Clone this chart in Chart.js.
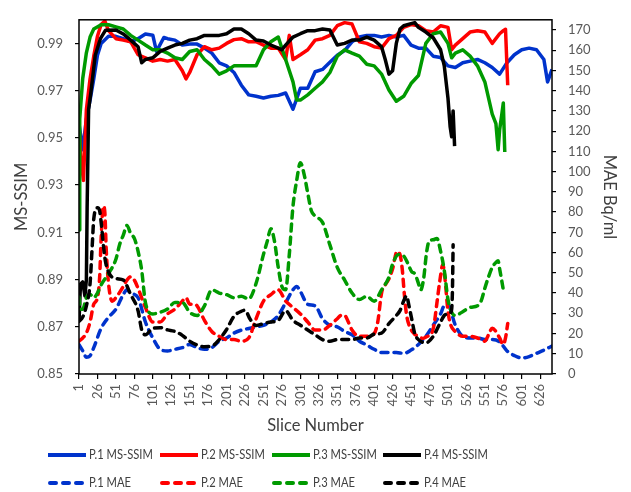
<!DOCTYPE html>
<html lang="en">
<head>
<meta charset="UTF-8">
<title>MS-SSIM and MAE per slice</title>
<script src="https://cdn.jsdelivr.net/npm/chart.js"></script>
<style>
    * { margin: 0; padding: 0; box-sizing: border-box; }
    body { background: #fff; width: 631px; height: 492px; overflow: hidden; }
</style>
</head>
<body>
<canvas id="chart" width="631" height="492"></canvas>
<script>
    // tick labels
    const sliceTicks = [1, 26, 51, 76, 101, 126, 151, 176, 201, 226, 251, 276, 301, 326, 351, 376, 401, 426, 451, 476, 501, 526, 551, 576, 601, 626];
    const ssimTicks = [0.85, 0.87, 0.89, 0.91, 0.93, 0.95, 0.97, 0.99];
    const maeTicks = [0, 10, 20, 30, 40, 50, 60, 70, 80, 90, 100, 110, 120, 130, 140, 150, 160, 170];

    const patients = ['P.1', 'P.2', 'P.3', 'P.4'];

    // MS-SSIM (left axis)
    const p1SsimX = [1, 6, 11, 16, 21, 26, 31, 41, 51, 61, 71, 81, 91, 101, 106, 116, 121, 131, 141, 151, 161, 171, 181, 191, 201, 211, 221, 231, 241, 251, 261, 271, 281, 291, 301, 311, 321, 331, 341, 351, 361, 371, 381, 391, 401, 411, 421, 431, 441, 451, 461, 471, 481, 491, 501, 511, 521, 531, 541, 551, 561, 571, 581, 591, 601, 611, 621, 631, 636, 642];
    const p1SsimY = [0.956, 0.945, 0.958, 0.966, 0.975, 0.985, 0.990, 0.993, 0.993, 0.992, 0.9907, 0.992, 0.994, 0.9935, 0.9866, 0.9925, 0.992, 0.9914, 0.9893, 0.9897, 0.9897, 0.988, 0.9859, 0.9818, 0.9805, 0.9777, 0.9723, 0.9682, 0.9676, 0.9669, 0.9676, 0.968, 0.969, 0.9621, 0.971, 0.971, 0.978, 0.979, 0.982, 0.985, 0.987, 0.9907, 0.9927, 0.9934, 0.9934, 0.9927, 0.9934, 0.9927, 0.9934, 0.9893, 0.988, 0.988, 0.9846, 0.984, 0.9805, 0.9798, 0.9818, 0.9825, 0.9832, 0.9818, 0.9798, 0.977, 0.9818, 0.9852, 0.9873, 0.988, 0.9873, 0.9832, 0.9737, 0.979];

    const p2SsimX = [1, 4, 7, 11, 16, 21, 26, 31, 36, 41, 51, 61, 71, 81, 91, 101, 111, 121, 131, 141, 146, 151, 161, 171, 181, 191, 201, 211, 221, 231, 241, 251, 261, 271, 281, 286, 291, 301, 311, 321, 331, 341, 351, 361, 371, 381, 391, 401, 411, 421, 431, 441, 451, 461, 471, 481, 491, 501, 506, 511, 521, 531, 541, 551, 561, 571, 576, 579, 582];
    const p2SsimY = [0.955, 0.94, 0.932, 0.962, 0.975, 0.9846, 0.993, 0.998, 0.9995, 0.9954, 0.992, 0.9914, 0.9907, 0.9852, 0.9839, 0.9825, 0.9832, 0.9825, 0.9832, 0.9784, 0.975, 0.9777, 0.9852, 0.9886, 0.9873, 0.988, 0.99, 0.9916, 0.992, 0.9907, 0.9907, 0.9893, 0.988, 0.988, 0.9832, 0.9934, 0.9832, 0.9852, 0.9873, 0.9914, 0.992, 0.9934, 0.9975, 0.9988, 0.9982, 0.9907, 0.99, 0.9886, 0.988, 0.992, 0.9934, 0.9968, 0.998, 0.9975, 0.9954, 0.9948, 0.9975, 0.9968, 0.9873, 0.9893, 0.992, 0.9948, 0.9954, 0.9948, 0.99, 0.9941, 0.9954, 0.996, 0.9723];

    const p3SsimX = [1, 2, 6, 11, 16, 21, 31, 41, 51, 61, 71, 81, 91, 101, 111, 121, 131, 141, 151, 161, 171, 181, 191, 201, 211, 221, 231, 241, 251, 261, 271, 281, 291, 296, 301, 311, 321, 331, 341, 351, 361, 371, 381, 391, 401, 411, 421, 431, 441, 451, 461, 471, 481, 491, 501, 506, 511, 521, 531, 541, 551, 561, 566, 569, 571, 574, 576, 578];
    const p3SsimY = [0.911, 0.958, 0.975, 0.986, 0.9927, 0.9961, 0.9979, 0.9979, 0.997, 0.9961, 0.9934, 0.9914, 0.9893, 0.9873, 0.9873, 0.9859, 0.9839, 0.9832, 0.9866, 0.9873, 0.9832, 0.9805, 0.977, 0.9784, 0.9805, 0.9805, 0.9805, 0.9805, 0.9873, 0.9907, 0.9927, 0.9832, 0.9737, 0.966, 0.966, 0.9682, 0.971, 0.9737, 0.9777, 0.9846, 0.9873, 0.9859, 0.9846, 0.9812, 0.9805, 0.977, 0.9703, 0.9655, 0.9676, 0.973, 0.9764, 0.99, 0.9941, 0.9948, 0.99, 0.9839, 0.9859, 0.9873, 0.9846, 0.9805, 0.9737, 0.9601, 0.956, 0.945, 0.9533, 0.96, 0.9648, 0.944];

    const p4SsimX = [1, 3, 6, 9, 11, 12, 14, 17, 23, 30, 37, 51, 61, 71, 81, 86, 91, 101, 111, 121, 131, 141, 151, 161, 171, 181, 191, 201, 211, 221, 231, 241, 251, 261, 271, 276, 281, 291, 301, 311, 321, 331, 341, 351, 361, 371, 381, 391, 401, 411, 416, 421, 426, 431, 436, 441, 451, 456, 461, 471, 481, 491, 496, 501, 504, 506, 508, 510];
    const p4SsimY = [0.872, 0.888, 0.889, 0.883, 0.89, 0.92, 0.962, 0.969, 0.985, 0.992, 0.9956, 0.9957, 0.994, 0.9914, 0.9886, 0.9818, 0.9832, 0.9839, 0.9866, 0.988, 0.9893, 0.99, 0.9914, 0.992, 0.9934, 0.9934, 0.9934, 0.9941, 0.9961, 0.9961, 0.9941, 0.9914, 0.991, 0.9893, 0.988, 0.9873, 0.9893, 0.9927, 0.9941, 0.9954, 0.9954, 0.9961, 0.9957, 0.9893, 0.99, 0.9914, 0.9914, 0.9927, 0.9914, 0.9886, 0.9832, 0.977, 0.9784, 0.99, 0.9961, 0.9975, 0.9984, 0.9988, 0.9968, 0.9948, 0.9924, 0.9873, 0.9805, 0.9669, 0.9546, 0.9505, 0.9614, 0.9465];

    // MAE in Bq/ml (right axis)
    const p1MaeX = [1, 6, 11, 16, 21, 31, 41, 51, 61, 66, 71, 81, 91, 101, 111, 121, 131, 141, 151, 161, 171, 181, 191, 201, 211, 221, 231, 241, 251, 261, 271, 281, 291, 296, 301, 311, 321, 331, 341, 351, 361, 371, 381, 391, 401, 411, 421, 431, 441, 451, 461, 471, 481, 491, 496, 501, 511, 521, 531, 541, 551, 561, 571, 581, 591, 601, 611, 621, 631, 642];
    const p1MaeY = [14.5, 11.5, 8.3, 9, 13, 22.6, 28, 32, 39.3, 41.6, 40, 37.7, 25.7, 17.8, 12.2, 11.4, 12.2, 13, 14.6, 13, 12.2, 13, 16.2, 17.8, 20.2, 21.7, 22.5, 23.3, 24.1, 25.7, 28.9, 35.2, 41.6, 43.2, 40.8, 34.4, 33.7, 27.3, 24.1, 23.3, 21, 19.4, 16.2, 14.3, 12.2, 10.6, 10.6, 10.6, 10.2, 11.8, 14.6, 18.6, 24.1, 29.7, 33.7, 34, 24.1, 18.6, 17.8, 17.8, 17, 17, 15.9, 11.4, 9.1, 7.9, 8.6, 10.2, 11.8, 13.8];

    const p2MaeX = [1, 6, 11, 16, 21, 26, 29, 31, 34, 36, 38, 41, 46, 51, 61, 66, 71, 76, 81, 91, 101, 111, 121, 131, 141, 146, 151, 156, 161, 171, 181, 191, 201, 211, 221, 231, 241, 251, 261, 271, 281, 291, 301, 311, 321, 331, 341, 351, 356, 361, 366, 371, 381, 391, 401, 406, 411, 416, 421, 426, 432, 436, 439, 442, 445, 449, 455, 461, 467, 473, 478, 482, 486, 490, 494, 497, 501, 505, 511, 521, 531, 541, 551, 556, 561, 566, 571, 576, 579, 582];
    const p2MaeY = [16.2, 17.8, 20.2, 25.7, 34.5, 37.7, 48, 67, 83, 79.8, 60.7, 44.8, 36, 37.7, 43.2, 46.4, 48, 46.4, 42.4, 32.9, 25.7, 25.7, 29.7, 32.1, 36, 37.7, 34.5, 34.5, 33.7, 26.5, 21, 18.6, 17, 17, 16.2, 17.8, 27.3, 36, 39.2, 41.6, 36, 32.9, 29.7, 25.7, 21.7, 21.7, 24.1, 27.3, 28.9, 28.9, 25.7, 21.7, 18.6, 18.6, 20, 26, 40, 44, 47, 52, 60.5, 59, 52, 39, 29, 23.5, 20, 18.6, 17.6, 18.6, 19.5, 24, 35, 46, 54, 47, 31, 24, 21, 18.6, 18.6, 17.8, 16.2, 19.4, 22.6, 21, 17.8, 14.6, 17.8, 25];

    const p3MaeX = [1, 3, 6, 11, 16, 21, 26, 31, 41, 51, 56, 61, 66, 71, 76, 81, 86, 91, 101, 111, 121, 131, 141, 151, 161, 171, 181, 191, 201, 211, 221, 231, 241, 251, 256, 261, 266, 271, 276, 281, 286, 291, 296, 301, 306, 311, 316, 321, 331, 341, 351, 361, 371, 381, 391, 401, 411, 421, 426, 434, 441, 446, 452, 456, 461, 464, 468, 472, 476, 481, 486, 491, 496, 501, 506, 511, 521, 531, 541, 546, 551, 556, 561, 566, 569, 571, 573, 576];
    const p3MaeY = [38, 32, 32, 37.7, 39.3, 37.7, 40, 44, 49.6, 56.7, 63.9, 68.6, 73.4, 69.4, 67, 60.7, 51.1, 35.3, 29.7, 30.5, 32.1, 35.3, 35.3, 30.5, 28.9, 33.7, 41.6, 40, 39.2, 37.7, 38.4, 37.1, 44.8, 59.1, 65.4, 71.8, 65.4, 52.7, 43.2, 41.6, 59.1, 82.9, 95.6, 104.4, 98.8, 89.3, 80.5, 78.1, 74.9, 63.8, 52.7, 46.4, 40, 36.8, 38.4, 36, 41.6, 47.9, 54.3, 59, 58.3, 55.1, 50.5, 49.6, 44.8, 41.5, 47, 60, 66, 66.3, 67, 60.7, 51.2, 36.9, 30.5, 28.9, 30.8, 32.9, 33.7, 36.1, 42.4, 48, 52.7, 55.1, 55.9, 52, 48, 41.6];

    const p4MaeX = [1, 6, 11, 16, 19, 21, 26, 29, 31, 36, 41, 51, 61, 71, 81, 86, 91, 101, 111, 121, 131, 141, 151, 161, 171, 181, 191, 201, 211, 221, 226, 233, 241, 251, 261, 271, 281, 291, 301, 311, 321, 331, 341, 351, 361, 371, 381, 391, 401, 411, 421, 431, 436, 441, 445, 448, 452, 456, 461, 471, 481, 491, 496, 501, 505, 507, 508];
    const p4MaeY = [26, 28.1, 33.7, 44.8, 63.9, 76.6, 82.1, 80.6, 75, 57.5, 50.4, 47.2, 46.4, 39.3, 31.3, 21.8, 19.4, 22.6, 22.9, 21.8, 21, 19.1, 16.2, 14.3, 13.5, 13.8, 17, 22, 28.5, 31, 31.5, 27, 24, 24.9, 25.7, 26.5, 31.3, 26.5, 24.1, 21.7, 19.4, 17, 16.2, 17, 17, 17, 17.8, 17.8, 19.7, 20.2, 24.9, 28.9, 31.3, 36.1, 38.6, 34, 27, 20, 17, 15.4, 18.6, 25.7, 28.9, 29.7, 30.5, 40, 63.9];

    const colors = ['#0033CC', '#FF0000', '#009A00', '#000000'];
    const FONT = 'Lato, "Open Sans", sans-serif';
    const TICK_COLOR = '#595959';

    function pts(xs, ys) {
        return xs.map((x, i) => ({ x: x, y: ys[i] }));
    }

    const ssimData = [pts(p1SsimX, p1SsimY), pts(p2SsimX, p2SsimY), pts(p3SsimX, p3SsimY), pts(p4SsimX, p4SsimY)];
    const maeData = [pts(p1MaeX, p1MaeY), pts(p2MaeX, p2MaeY), pts(p3MaeX, p3MaeY), pts(p4MaeX, p4MaeY)];

    const datasets = [];
    patients.forEach((p, i) => {
        datasets.push({
            label: p + ' MS-SSIM',
            data: ssimData[i],
            yAxisID: 'ySsim',
            borderColor: colors[i],
            borderWidth: 3.5,
            borderJoinStyle: 'round',
            pointRadius: 0,
            tension: 0,
            order: 8 - i
        });
    });
    patients.forEach((p, i) => {
        datasets.push({
            label: p + ' MAE',
            data: maeData[i],
            yAxisID: 'yMae',
            borderColor: colors[i],
            borderWidth: 3.5,
            borderDash: [7, 6],
            borderCapStyle: 'round',
            borderJoinStyle: 'round',
            pointRadius: 0,
            cubicInterpolationMode: 'monotone',
            order: 4 - i
        });
    });

    // plot area frame (Excel draws a box round the plot)
    const frame = {
        id: 'frame',
        afterDatasetsDraw(chart) {
            const a = chart.chartArea;
            const ctx = chart.ctx;
            ctx.save();
            ctx.strokeStyle = '#000';
            ctx.lineWidth = 1.5;
            ctx.strokeRect(a.left, a.top, a.right - a.left, a.bottom - a.top);
            ctx.restore();
        }
    };

    // legend laid out in 4 columns x 2 rows like the original
    const gridLegend = {
        id: 'gridLegend',
        afterDraw(chart) {
            const ctx = chart.ctx;
            const cols = [48, 160, 272, 383];
            const rows = [455, 483];
            ctx.save();
            ctx.font = '13px ' + FONT;
            ctx.textBaseline = 'middle';
            ctx.textAlign = 'left';
            chart.data.datasets.forEach((ds, i) => {
                const x = cols[i % 4];
                const y = rows[Math.floor(i / 4)];
                ctx.strokeStyle = ds.borderColor;
                ctx.lineWidth = 4;
                ctx.lineCap = ds.borderDash ? 'round' : 'butt';
                ctx.setLineDash(ds.borderDash ? [6, 7] : []);
                ctx.beginPath();
                if (ds.borderDash) {
                    ctx.moveTo(x + 2, y);
                    ctx.lineTo(x + 38, y);
                } else {
                    ctx.moveTo(x, y);
                    ctx.lineTo(x + 38, y);
                }
                ctx.stroke();
                ctx.setLineDash([]);
                // squeeze the text a little, the original font is narrower
                ctx.save();
                ctx.translate(x + 41, y);
                ctx.scale(0.86, 1);
                ctx.fillStyle = '#404040';
                ctx.fillText(ds.label, 0, 0);
                ctx.restore();
            });
            ctx.restore();
        }
    };

    const axisGrid = {
        display: true,
        drawOnChartArea: false,
        drawTicks: true,
        tickLength: 4,
        color: '#000',
        lineWidth: 1.2
    };

    new Chart(document.getElementById('chart'), {
        type: 'line',
        data: { datasets: datasets },
        options: {
            responsive: false,
            animation: false,
            layout: { padding: { top: 7, bottom: 56, left: 0, right: 0 } },
            plugins: {
                legend: { display: false },
                tooltip: { enabled: false }
            },
            scales: {
                x: {
                    type: 'linear',
                    position: 'bottom',
                    min: 1,
                    max: 642,
                    afterBuildTicks: (axis) => { axis.ticks = sliceTicks.map(v => ({ value: v })); },
                    afterFit: (axis) => { axis.height = 62; },
                    ticks: {
                        autoSkip: false,
                        minRotation: 90,
                        maxRotation: 90,
                        padding: 5,
                        color: TICK_COLOR,
                        font: { family: FONT, size: 13 },
                        callback: (v) => String(v)
                    },
                    grid: Object.assign({}, axisGrid, { tickLength: 5 }),
                    border: { display: false },
                    title: {
                        display: true,
                        text: 'Slice Number',
                        color: '#404040',
                        font: { family: FONT, size: 16.5 },
                        padding: { top: 2, bottom: 0 }
                    }
                },
                ySsim: {
                    type: 'linear',
                    position: 'left',
                    min: 0.85,
                    max: 1.0,
                    afterBuildTicks: (axis) => { axis.ticks = ssimTicks.map(v => ({ value: v })); },
                    afterFit: (axis) => { axis.width = 79; },
                    ticks: {
                        padding: 12,
                        color: TICK_COLOR,
                        font: { family: FONT, size: 13 },
                        callback: (v) => Number(v).toFixed(2)
                    },
                    grid: axisGrid,
                    border: { display: false },
                    title: {
                        display: true,
                        text: 'MS-SSIM',
                        color: '#404040',
                        font: { family: FONT, size: 16.5 },
                        padding: { top: 12, bottom: 0 }
                    }
                },
                yMae: {
                    type: 'linear',
                    position: 'right',
                    min: 0,
                    max: 175,
                    afterBuildTicks: (axis) => { axis.ticks = maeTicks.map(v => ({ value: v })); },
                    afterFit: (axis) => { axis.width = 79; },
                    ticks: {
                        padding: 12,
                        color: TICK_COLOR,
                        font: { family: FONT, size: 13 },
                        callback: (v) => String(v)
                    },
                    grid: axisGrid,
                    border: { display: false },
                    title: {
                        display: true,
                        text: 'MAE Bq/ml',
                        color: '#404040',
                        font: { family: FONT, size: 16.5 },
                        padding: { top: 12, bottom: 0 }
                    }
                }
            }
        },
        plugins: [frame, gridLegend]
    });
</script>
</body>
</html>
